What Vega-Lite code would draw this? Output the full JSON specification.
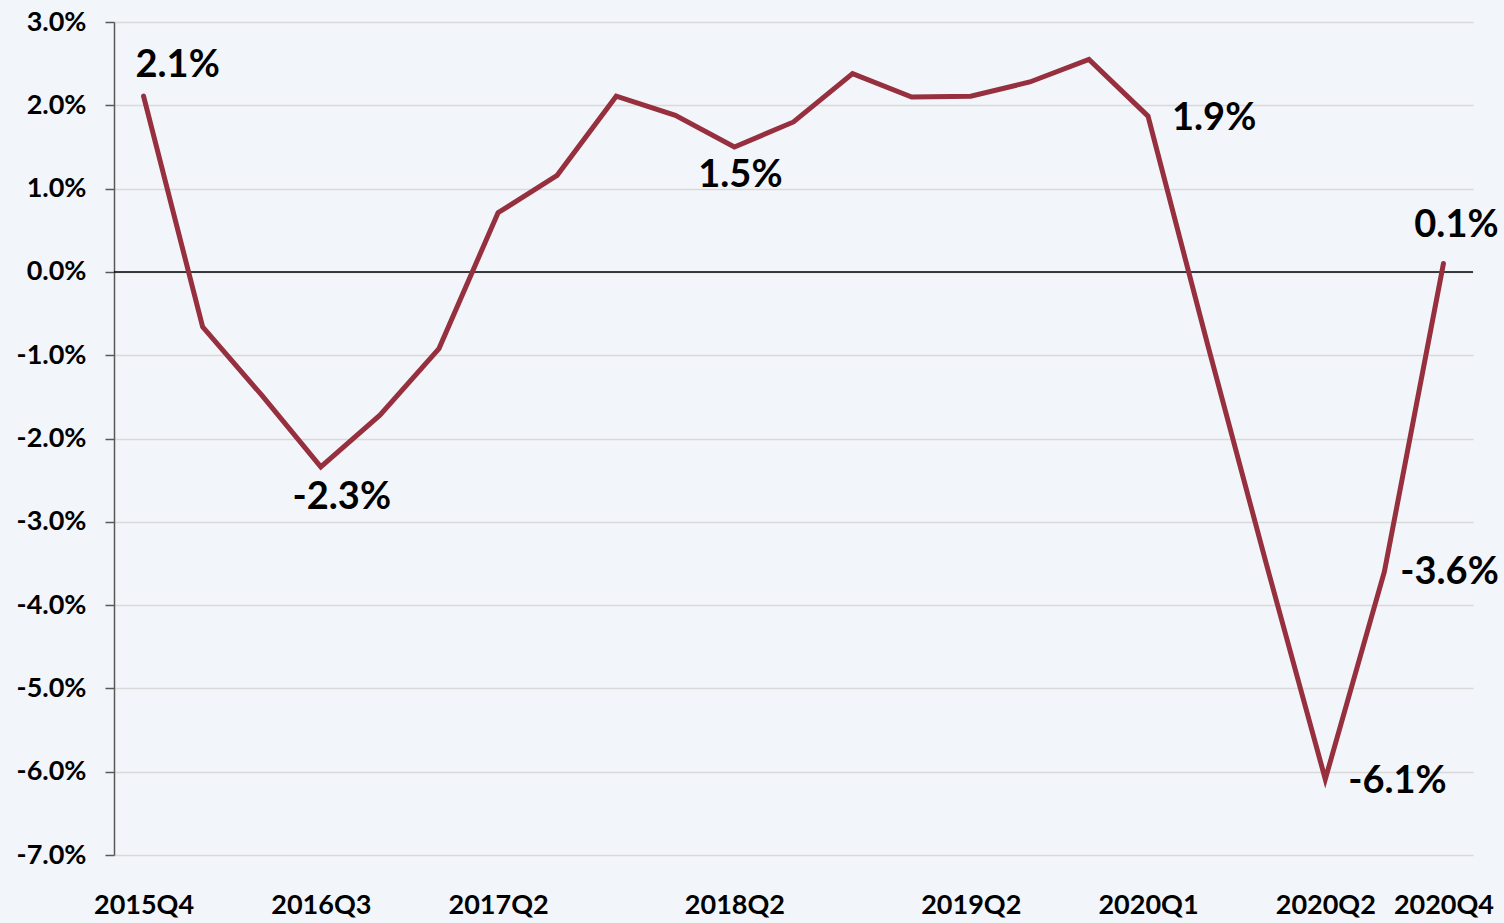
{
  "$schema": "https://vega.github.io/schema/vega-lite/v6.json",
  "width": 1359,
  "height": 833,
  "autosize": "none",
  "padding": {"left": 114, "top": 22, "right": 31, "bottom": 68},
  "background": "#f2f5f9",
  "config": {
    "view": {"stroke": null, "fill": "#f2f5f9"},
    "font": "Lato"
  },
  "data": {
    "values": [
      {"q": "2015Q4", "v": 2.11},
      {"q": "2016Q1", "v": -0.66},
      {"q": "2016Q2", "v": -1.48},
      {"q": "2016Q3", "v": -2.34},
      {"q": "2016Q4", "v": -1.72},
      {"q": "2017Q1", "v": -0.92},
      {"q": "2017Q2", "v": 0.71},
      {"q": "2017Q3", "v": 1.16},
      {"q": "2017Q4", "v": 2.11},
      {"q": "2018Q1", "v": 1.88},
      {"q": "2018Q2", "v": 1.50},
      {"q": "2018Q3", "v": 1.80},
      {"q": "2018Q4", "v": 2.38},
      {"q": "2019Q1", "v": 2.10},
      {"q": "2019Q2", "v": 2.11},
      {"q": "2019Q3", "v": 2.28},
      {"q": "2019Q4", "v": 2.55},
      {"q": "2020Q1", "v": 1.87},
      {"q": "2020Q1-b", "v": -0.85},
      {"q": "2020Q1-c", "v": -3.5},
      {"q": "2020Q2", "v": -6.09},
      {"q": "2020Q3", "v": -3.6},
      {"q": "2020Q4", "v": 0.1}
    ]
  },
  "encoding": {
    "x": {
      "field": "q", "type": "ordinal", "sort": null,
      "scale": {"type": "point", "padding": 0.5},
      "axis": {
        "title": null, "labelAngle": 0, "domain": false, "ticks": false, "grid": false,
        "labelFont": "Lato", "labelFontWeight": "bold", "labelFontSize": 27, "labelColor": "#000000",
        "labelPadding": 37, "labelOverlap": false,
        "labelExpr": "indexof(['2015Q4','2016Q3','2017Q2','2018Q2','2019Q2','2020Q1','2020Q2','2020Q4'], datum.value) >= 0 ? datum.value : ''"
      }
    },
    "y": {
      "field": "v", "type": "quantitative",
      "scale": {"domain": [-7, 3], "nice": false, "zero": false},
      "axis": {
        "title": null, "values": [-7, -6, -5, -4, -3, -2, -1, 0, 1, 2, 3],
        "labelExpr": "(datum.value < 0 ? '-' : '') + format(abs(datum.value), '.1f') + '%'",
        "labelFont": "Lato", "labelFontWeight": "bold", "labelFontSize": 27, "labelColor": "#000000",
        "labelPadding": 19,
        "domain": true, "domainColor": "#595959", "domainWidth": 1.5,
        "ticks": true, "tickColor": "#595959", "tickSize": 9, "tickWidth": 1.5,
        "grid": true, "gridColor": "#d9d9d9", "gridWidth": 1.5
      }
    }
  },
  "layer": [
    {
      "data": {"values": [{"z": 0}]},
      "mark": {"type": "rule", "color": "#000000", "strokeWidth": 1.5},
      "encoding": {"y": {"field": "z", "type": "quantitative"}, "x": null}
    },
    {
      "mark": {"type": "line", "color": "#962f3e", "strokeWidth": 5, "strokeCap": "round", "strokeJoin": "miter"}
    },
    {
      "transform": [{"calculate": "(datum.v < 0 ? '-' : '') + format(abs(datum.v), '.1f') + '%'", "as": "lab"}],
      "layer": [
        {
          "transform": [{"filter": "datum.q == '2015Q4'"}],
          "mark": {"type": "text", "font": "Lato", "fontWeight": "bold", "fontSize": 38, "align": "left", "baseline": "middle", "dx": -8, "dy": -30, "color": "#000000"},
          "encoding": {"text": {"field": "lab"}}
        },
        {
          "transform": [{"filter": "datum.q == '2016Q3'"}],
          "mark": {"type": "text", "font": "Lato", "fontWeight": "bold", "fontSize": 38, "align": "center", "baseline": "middle", "dx": 21, "dy": 31, "color": "#000000"},
          "encoding": {"text": {"field": "lab"}}
        },
        {
          "transform": [{"filter": "datum.q == '2018Q2'"}],
          "mark": {"type": "text", "font": "Lato", "fontWeight": "bold", "fontSize": 38, "align": "center", "baseline": "middle", "dx": 6, "dy": 29, "color": "#000000"},
          "encoding": {"text": {"field": "lab"}}
        },
        {
          "transform": [{"filter": "datum.q == '2020Q1'"}],
          "mark": {"type": "text", "font": "Lato", "fontWeight": "bold", "fontSize": 38, "align": "left", "baseline": "middle", "dx": 24, "dy": 3, "color": "#000000"},
          "encoding": {"text": {"field": "lab"}}
        },
        {
          "transform": [{"filter": "datum.q == '2020Q2'"}],
          "mark": {"type": "text", "font": "Lato", "fontWeight": "bold", "fontSize": 38, "align": "left", "baseline": "middle", "dx": 23, "dy": 3, "color": "#000000"},
          "encoding": {"text": {"field": "lab"}}
        },
        {
          "transform": [{"filter": "datum.q == '2020Q3'"}],
          "mark": {"type": "text", "font": "Lato", "fontWeight": "bold", "fontSize": 38, "align": "left", "baseline": "middle", "dx": 16, "dy": 1, "color": "#000000"},
          "encoding": {"text": {"field": "lab"}}
        },
        {
          "transform": [{"filter": "datum.q == '2020Q4'"}],
          "mark": {"type": "text", "font": "Lato", "fontWeight": "bold", "fontSize": 38, "align": "center", "baseline": "middle", "dx": 13, "dy": -38, "color": "#000000"},
          "encoding": {"text": {"field": "lab"}}
        }
      ]
    }
  ]
}
